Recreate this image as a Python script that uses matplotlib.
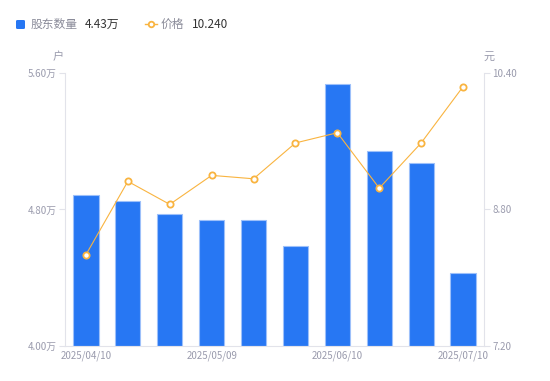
import matplotlib
matplotlib.use('Agg')
import matplotlib.pyplot as plt
from matplotlib.lines import Line2D
from matplotlib.patches import FancyBboxPatch
import numpy as np

plt.rcParams['font.family'] = ['Noto Sans CJK SC', 'DejaVu Sans']

dates = ["2025/04/10", "", "", "2025/05/09", "", "", "2025/06/10", "", "", "2025/07/10"]
holders = [4.883, 4.848, 4.772, 4.738, 4.737, 4.586, 5.536, 5.143, 5.072, 4.43]  # 万户
price = [8.27, 9.13, 8.86, 9.20, 9.16, 9.58, 9.70, 9.05, 9.58, 10.24]
left_ticks = [4.00, 4.80, 5.60]
right_ticks = [7.20, 8.80, 10.40]

c_bar = '#2777F3'
c_edge = '#9DC0FA'
c_line = '#F9B440'
c_tick = '#9A9BAD'
c_axis = '#E2E3EA'

W, H = 550, 381
fig = plt.figure(figsize=(5.5, 3.81), dpi=100)
ax = fig.add_axes([65 / W, (H - 346) / H, 419 / W, 273 / H])
ax2 = ax.twinx()

x = np.arange(len(holders))
ax.bar(x, np.array(holders) - 4.0, bottom=4.0, width=0.6, color=c_bar,
       edgecolor=c_edge, linewidth=0.8, zorder=2)
ax.set_xlim(-0.5, len(holders) - 0.5)
ax.set_ylim(4.0, 5.6)
ax.set_yticks(left_ticks)
ax.set_yticklabels([f"{v:.2f}万" for v in left_ticks])
ax.set_xticks(x)
ax.set_xticklabels(dates)

ax2.plot(x, price, color=c_line, linewidth=0.8, marker='o', markersize=4.5,
         markerfacecolor='white', markeredgecolor=c_line, markeredgewidth=1.3, zorder=3)
ax2.set_ylim(7.2, 10.4)
ax2.set_yticks(right_ticks)
ax2.set_yticklabels([f"{v:.2f}" for v in right_ticks])

for a in (ax, ax2):
    for s in a.spines.values():
        s.set_visible(False)
    a.tick_params(colors=c_tick, labelsize=7, length=4, width=0.8)
    a.tick_params(axis='y', color=c_axis, pad=2)
ax.tick_params(axis='x', length=0, pad=3)
ax.spines['left'].set_visible(True)
ax.spines['left'].set_color(c_axis)
ax.spines['bottom'].set_visible(True)
ax.spines['bottom'].set_color(c_axis)
ax2.spines['right'].set_visible(True)
ax2.spines['right'].set_color(c_axis)

# units
fig.text(58 / W, 1 - 57 / H, "户", color=c_tick, fontsize=8, ha='center', va='center')
fig.text(489 / W, 1 - 57 / H, "元", color=c_tick, fontsize=8, ha='center', va='center')

# legend row
fig.patches.append(FancyBboxPatch((16 / W, 1 - 29 / H), 9 / W, 9 / H,
                                  boxstyle="round,pad=0,rounding_size=0.003",
                                  transform=fig.transFigure, facecolor=c_bar, edgecolor='none'))
fig.text(31 / W, 1 - 24 / H, "股东数量", color='#8A8B99', fontsize=8.5, va='center')
fig.text(85 / W, 1 - 24 / H, f"{holders[-1]:.2f}万", color='#333333', fontsize=8.5, va='center')
fig.add_artist(Line2D([145 / W, 151 / W, 157 / W], [1 - 24 / H] * 3, transform=fig.transFigure,
                      color=c_line, linewidth=1, marker='o', markersize=4, markevery=[1],
                      markerfacecolor='white', markeredgecolor=c_line, markeredgewidth=1.3))
fig.text(161 / W, 1 - 24 / H, "价格", color='#8A8B99', fontsize=8.5, va='center')
fig.text(192 / W, 1 - 24 / H, f"{price[-1]:.3f}", color='#333333', fontsize=8.5, va='center')

fig.savefig('out.png', dpi=100)
